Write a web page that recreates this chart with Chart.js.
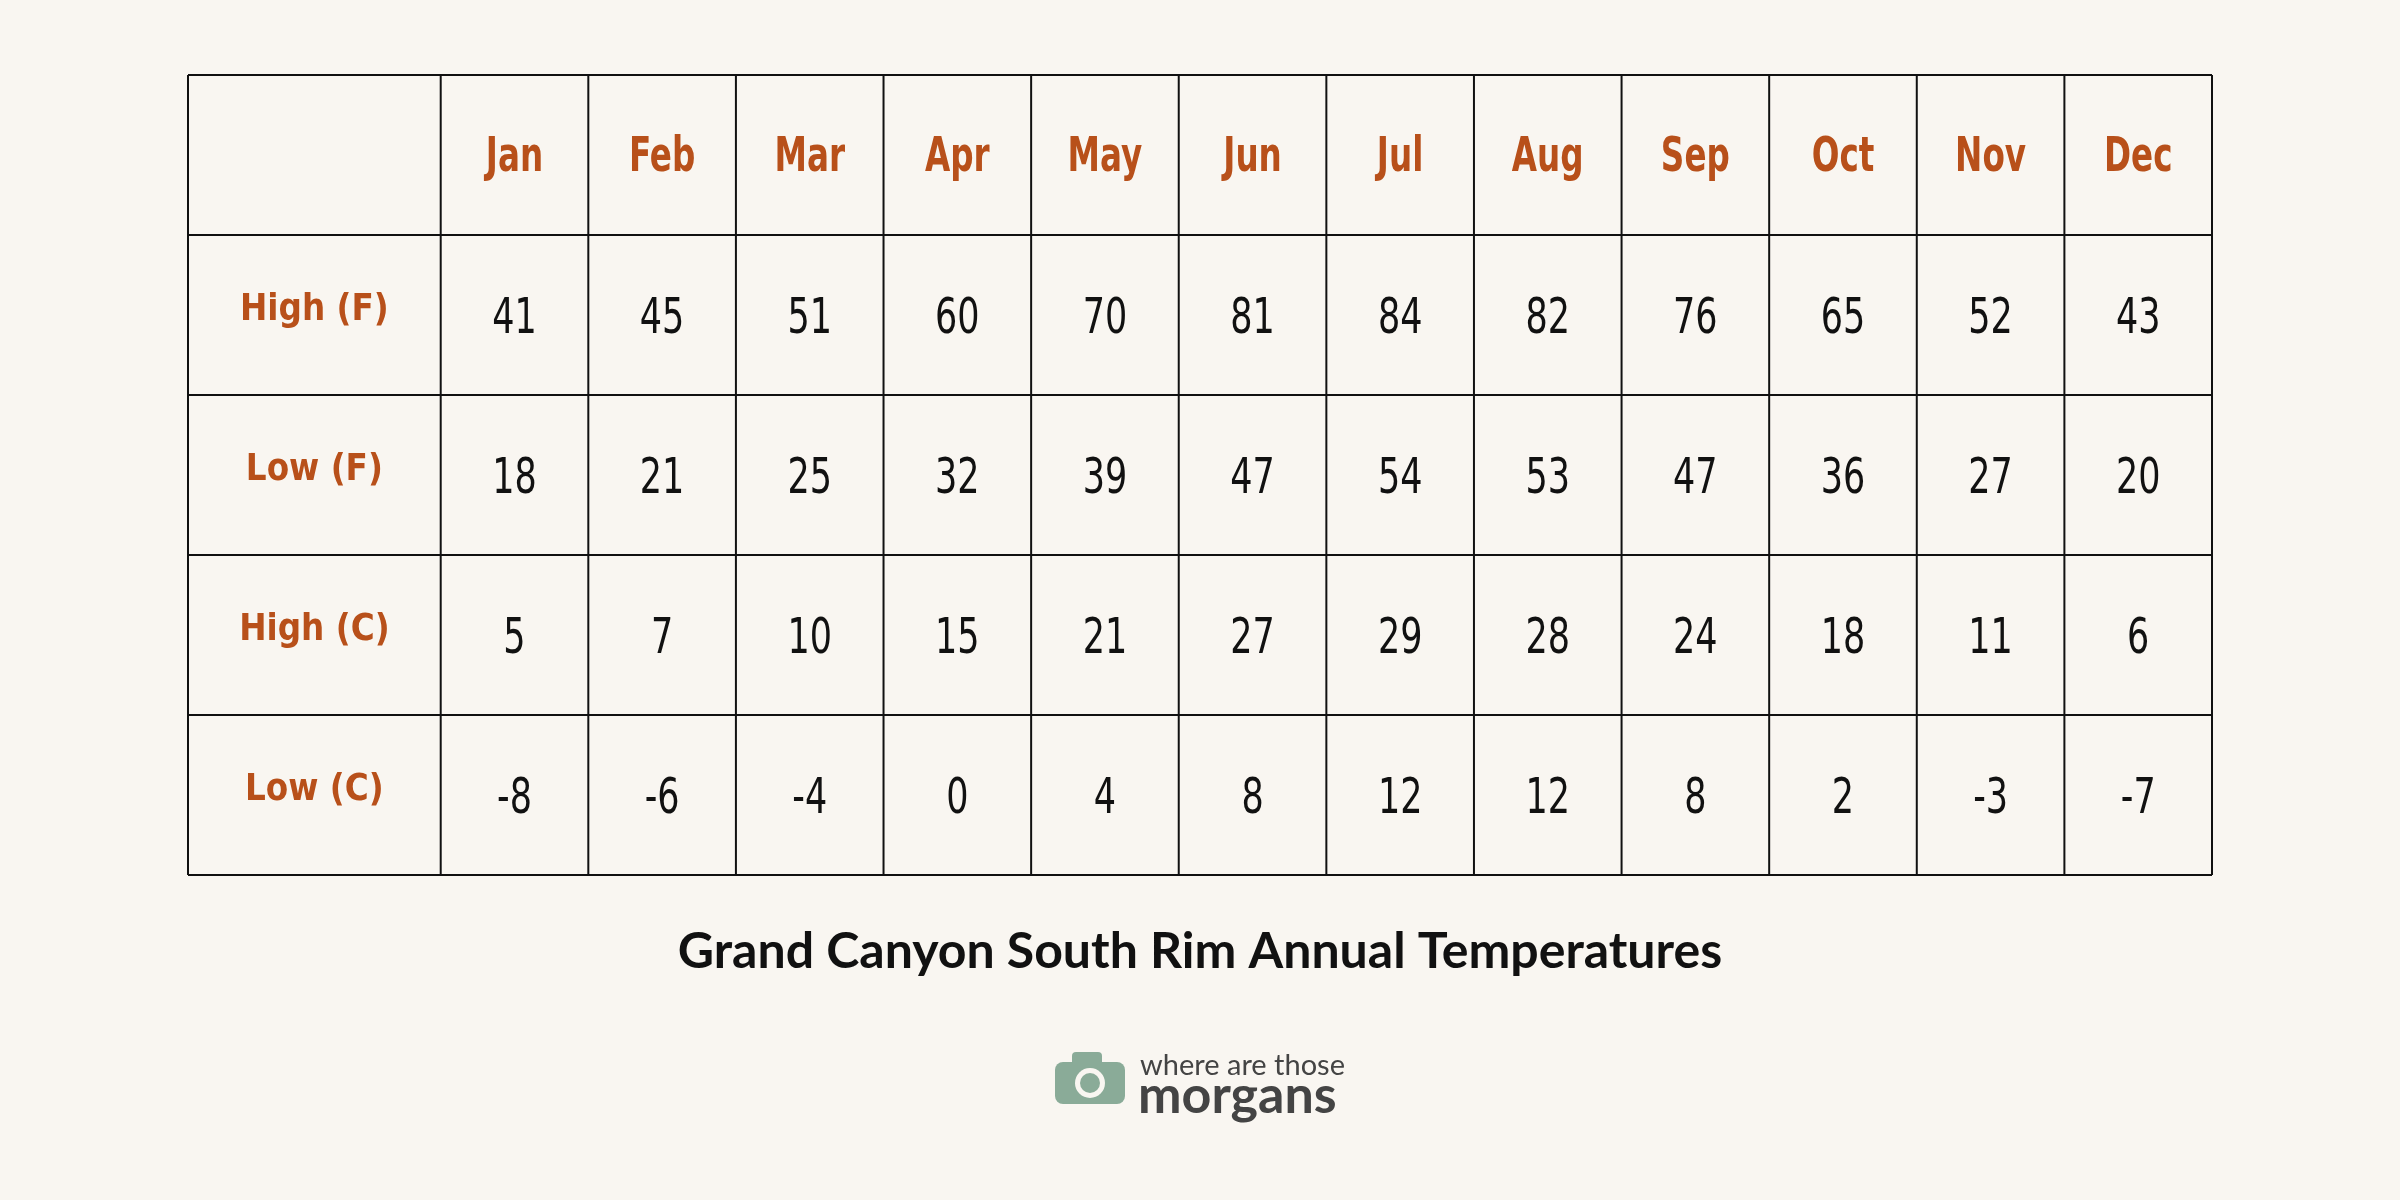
<!DOCTYPE html>
<html><head><meta charset="utf-8">
<script src="https://cdn.jsdelivr.net/npm/chart.js@4/dist/chart.umd.min.js"></script>
<style>html,body{margin:0;background:#f9f6f1}canvas{display:block}</style>
</head><body><canvas id="c" width="2400" height="1200"></canvas>
<script>
const months=['Jan','Feb','Mar','Apr','May','Jun','Jul','Aug','Sep','Oct','Nov','Dec'];
const rowLabels=['High (F)','Low (F)','High (C)','Low (C)'];
const highF=[41,45,51,60,70,81,84,82,76,65,52,43];
const lowF=[18,21,25,32,39,47,54,53,47,36,27,20];
const highC=[5,7,10,15,21,27,29,28,24,18,11,6];
const lowC=[-8,-6,-4,0,4,8,12,12,8,2,-3,-7];
const title='Grand Canyon South Rim Annual Temperatures';
const FW=1.712;
const rows=[highF,lowF,highC,lowC];
const datasets=rows.map((r,ri)=>({label:rowLabels[ri],data:r.map((v,i)=>({x:FW+i+0.5,y:ri+1.5,t:String(v)})),pointRadius:0}));
const orange='#b8501a';
function narrow(c,txt,x,y,sx){c.save();c.translate(x,y);c.scale(sx,1);c.fillText(txt,0,0);c.restore();}
const plugin={id:'tbl',afterDatasetsDraw(ch){
 const c=ch.ctx,xs=ch.scales.x,ys=ch.scales.y;
 c.save();c.strokeStyle='#111';c.lineWidth=2;
 const xb=[0];for(let i=0;i<=12;i++)xb.push(FW+i);
 const top=ys.getPixelForValue(0),bot=ys.getPixelForValue(5);
 xb.forEach(v=>{const p=xs.getPixelForValue(v);c.beginPath();c.moveTo(p,top);c.lineTo(p,bot);c.stroke();});
 const l=xs.getPixelForValue(0),r=xs.getPixelForValue(FW+12);
 for(let j=0;j<=5;j++){const p=ys.getPixelForValue(j);c.beginPath();c.moveTo(l,p);c.lineTo(r,p);c.stroke();}
 c.textAlign='center';c.textBaseline='middle';
 c.fillStyle=orange;c.font='bold 48px "DejaVu Sans",sans-serif';
 months.forEach((m,i)=>narrow(c,m,xs.getPixelForValue(FW+i+0.5),ys.getPixelForValue(0.5)+4,0.68));
 c.font='bold 38px "DejaVu Sans",sans-serif';
 rowLabels.forEach((m,i)=>narrow(c,m,xs.getPixelForValue(FW/2),ys.getPixelForValue(i+1.47),0.86));
 c.fillStyle='#111';c.font='50px "DejaVu Sans",sans-serif';
 ch.data.datasets.forEach((d,di)=>{ch.getDatasetMeta(di).data.forEach((e,i)=>narrow(c,d.data[i].t,e.x,e.y+5,0.7));});
 c.font='bold 50px Lato,sans-serif';c.fillText(title,1200,952);
 c.fillStyle='#8aab98';
 c.beginPath();c.roundRect(1055,1062,70,42,8);c.fill();
 c.beginPath();c.roundRect(1072,1052,30,14,4);c.fill();
 c.fillStyle='#f9f6f1';c.beginPath();c.arc(1090,1083,15,0,Math.PI*2);c.fill();
 c.fillStyle='#8aab98';c.beginPath();c.arc(1090,1083,10,0,Math.PI*2);c.fill();
 c.textAlign='left';c.fillStyle='#444';c.font='29px Lato,sans-serif';c.fillText('where are those',1140,1066);
 c.font='bold 52px Lato,sans-serif';c.fillText('morgans',1138,1096);
 c.restore();
}};
new Chart(document.getElementById('c'),{type:'scatter',data:{datasets},
options:{responsive:false,animation:false,devicePixelRatio:1,
layout:{padding:{left:188,right:188,top:75,bottom:325}},
plugins:{legend:{display:false},tooltip:{enabled:false}},
scales:{x:{type:'linear',min:0,max:FW+12,display:false},y:{type:'linear',min:0,max:5,reverse:true,display:false}}},
plugins:[plugin]});
</script></body></html>
